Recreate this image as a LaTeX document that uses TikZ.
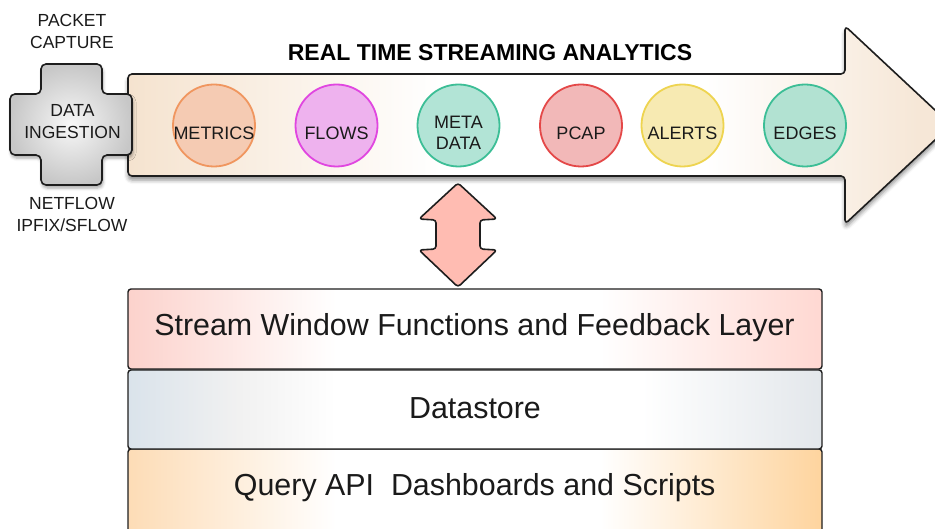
\documentclass[tikz,border=0pt]{standalone}
\usepackage{fontspec}
\setmainfont{Liberation Sans}
\usetikzlibrary{shadows.blur}
\definecolor{linec}{HTML}{1E1E1E}
\definecolor{txtc}{HTML}{1A1A1A}
\definecolor{arrL}{HTML}{F5E3CF}
\definecolor{arrR}{HTML}{F6E7D7}
\definecolor{lonL}{HTML}{FCD2CC}
\definecolor{lonR}{HTML}{FFD8D2}
\definecolor{ltwL}{HTML}{DAE3EB}
\definecolor{ltwM}{HTML}{F1F1F1}
\definecolor{ltwR}{HTML}{E3E7EB}
\definecolor{lthL}{HTML}{FDDCB6}
\definecolor{lthR}{HTML}{FED49E}
\definecolor{metF}{HTML}{F5CBB3}
\definecolor{metB}{HTML}{F0965F}
\definecolor{floF}{HTML}{EEB2EE}
\definecolor{floB}{HTML}{E046E0}
\definecolor{metaF}{HTML}{B2E4D6}
\definecolor{metaB}{HTML}{3CBE96}
\definecolor{pcaF}{HTML}{F2B8B8}
\definecolor{pcaB}{HTML}{E44848}
\definecolor{aleF}{HTML}{F7EAB2}
\definecolor{aleB}{HTML}{EED450}
\definecolor{edgF}{HTML}{B2E2D2}
\definecolor{edgB}{HTML}{3CBE96}
\definecolor{dblF}{HTML}{FFBCB2}
\pgfdeclarehorizontalshading{arrowshade}{100bp}{color(0bp)=(arrL); color(25bp)=(arrL); color(44bp)=(white); color(60bp)=(white); color(73bp)=(arrR); color(100bp)=(arrR)}
\pgfdeclarehorizontalshading{layonshade}{100bp}{color(0bp)=(lonL); color(25bp)=(lonL); color(40bp)=(white); color(59bp)=(white); color(75bp)=(lonR); color(100bp)=(lonR)}
\pgfdeclarehorizontalshading{laytwshade}{100bp}{color(0bp)=(ltwL); color(25bp)=(ltwL); color(33bp)=(ltwM); color(40bp)=(white); color(62bp)=(white); color(75bp)=(ltwR); color(100bp)=(ltwR)}
\pgfdeclarehorizontalshading{laythshade}{100bp}{color(0bp)=(lthL); color(25bp)=(lthL); color(40bp)=(white); color(59bp)=(white); color(75bp)=(lthR); color(100bp)=(lthR)}
\begin{document}
\begin{tikzpicture}[x=1pt,y=-1pt,
  outl/.style={draw=linec, line width=1.6pt, line join=round},
  bub/.style={circle, minimum size=82pt, inner sep=0pt, line width=1.8pt},
  ctxt/.style={font=\fontsize{18}{21.5}\selectfont, text=txtc, align=center, inner sep=0pt},
  sidetxt/.style={font=\fontsize{17.5}{21.5}\selectfont, text=txtc, align=center, inner sep=0pt},
  laybox/.style={draw=linec, line width=1.4pt, rounded corners=3pt, shade, minimum width=694pt, inner sep=0pt},
  laytxt/.style={font=\fontsize{30.4}{34}\selectfont, text=txtc, inner sep=0pt, anchor=base}]
\useasboundingbox (0,0) rectangle (935,529);
\clip (0,0) rectangle (935,529);

% big streaming arrow
\path[outl, shade, shading=arrowshade, rounded corners=4pt,
  blur shadow={shadow xshift=0pt, shadow yshift=-4pt, shadow blur radius=4pt, shadow opacity=45}]
  (128,74) -- (845,74) -- (845,26) -- (951,125) -- (845,224) -- (845,176) -- (128,176) -- cycle;

% data ingestion cross
\path[outl, inner color=black!3, outer color=black!22, rounded corners=5pt,
  blur shadow={shadow xshift=1pt, shadow yshift=-3pt, shadow blur radius=3pt, shadow opacity=35}]
  (41,64) -- (102,64) -- (102,94) -- (132,94) -- (132,155) -- (102,155) -- (102,185)
  -- (41,185) -- (41,155) -- (10,155) -- (10,94) -- (41,94) -- cycle;

\node[sidetxt] (ingest) at (72.5,121.7) {DATA\\INGESTION};
\node[sidetxt] (packet) at (72,31.7) {PACKET\\CAPTURE};
\node[sidetxt] (netflow) at (72,214.5) {NETFLOW\\IPFIX/SFLOW};

\node[font=\bfseries\fontsize{23}{27}\selectfont, anchor=base, inner sep=0pt] (title) at (490,61) {REAL TIME STREAMING ANALYTICS};

% circles
\node[bub, draw=metB, fill=metF] (metrics) at (214,125.5) {};
\node[ctxt] (metricsT) at ([yshift=-7.5pt]metrics.center) {METRICS};
\node[bub, draw=floB, fill=floF] (flows) at (336.5,125.5) {};
\node[ctxt] (flowsT) at ([yshift=-7.5pt]flows.center) {FLOWS};
\node[bub, draw=metaB, fill=metaF] (meta) at (458.5,125.5) {};
\node[ctxt] (metaT) at ([yshift=-7.5pt]meta.center) {META\\DATA};
\node[bub, draw=pcaB, fill=pcaF] (pcap) at (581,125.5) {};
\node[ctxt] (pcapT) at ([yshift=-7.5pt]pcap.center) {PCAP};
\node[bub, draw=aleB, fill=aleF] (alerts) at (682.5,125.5) {};
\node[ctxt] (alertsT) at ([yshift=-7.5pt]alerts.center) {ALERTS};
\node[bub, draw=edgB, fill=edgF] (edges) at (805,125.5) {};
\node[ctxt] (edgesT) at ([yshift=-7.5pt]edges.center) {EDGES};

% layers
\node[laybox, shading=laythshade, minimum height=100pt] (lay3) at (475,499) {};
\node[laybox, shading=laytwshade, minimum height=79pt] (lay2) at (475,409.5) {};
\node[laybox, shading=layonshade, minimum height=80pt] (lay1) at (475,329) {};
\node[laytxt] (lay1T) at (474.5,335.5) {Stream Window Functions and Feedback Layer};
\node[laytxt] (lay2T) at (475,418) {Datastore};
\node[laytxt] (lay3T) at (474.7,495.7) {Query API\ \ Dashboards and Scripts};

% up-down arrow
\path[outl, fill=dblF, rounded corners=3pt]
  (458,183) -- (497,219) -- (480,220) -- (480,249) -- (497,250) -- (458,287)
  -- (419,250) -- (436,249) -- (436,220) -- (419,219) -- cycle;
\end{tikzpicture}
\end{document}
